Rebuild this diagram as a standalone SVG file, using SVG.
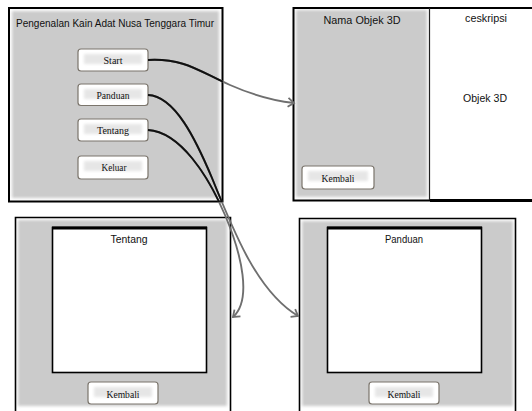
<svg xmlns="http://www.w3.org/2000/svg" width="532" height="411" viewBox="0 0 532 411">
<style>
.frame{fill:none;stroke:#000;stroke-width:2}
.gray{fill:#cbcbcb;filter:url(#soft)}
.inner{fill:#fff;stroke:#000;stroke-width:1.6}
.btn{fill:#fff;stroke:#7b756c;stroke-width:1.2}
.btnin{fill:#e6e6e6;filter:url(#soft2)}
.bl{font-family:"Liberation Serif","DejaVu Serif",serif;font-size:11px;fill:#111;text-anchor:middle}
.sl{font-family:"Liberation Sans","DejaVu Sans",sans-serif;font-size:11.5px;fill:#111;text-anchor:middle}
.cg{fill:none;stroke:#6f6f6f;stroke-width:1.9}
.cb{fill:none;stroke:#111;stroke-width:1.9}
</style>
<defs>
<filter id="soft" x="-5%" y="-5%" width="110%" height="110%"><feGaussianBlur stdDeviation="1.8"/></filter>
<filter id="soft2" x="-20%" y="-50%" width="140%" height="200%"><feGaussianBlur stdDeviation="1.5"/></filter>
<marker id="arr" markerWidth="12" markerHeight="12" refX="9" refY="6" orient="auto" markerUnits="userSpaceOnUse">
<path d="M3,1.5 L9,6 L3,10.5" fill="none" stroke="#6f6f6f" stroke-width="1.8"/>
</marker>
<clipPath id="mainclip"><rect x="8" y="7" width="215" height="195"/></clipPath>
</defs>
<rect width="532" height="411" fill="#fff"/>

<g id="main-window">
<rect class="gray" x="12" y="11" width="207" height="187"/>
<rect class="frame" x="9" y="8" width="213.5" height="193.5"/>
<text class="sl" x="115" y="27" textLength="198" lengthAdjust="spacingAndGlyphs">Pengenalan Kain Adat Nusa Tenggara Timur</text>
<g id="btn-start"><rect class="btn" x="78" y="49" width="70" height="22" rx="3"/><rect class="btnin" x="84" y="54" width="58" height="10"/><text class="bl" x="113" y="64" textLength="19" lengthAdjust="spacingAndGlyphs">Start</text></g>
<g id="btn-panduan"><rect class="btn" x="78" y="84" width="70" height="21.5" rx="3"/><rect class="btnin" x="84" y="89" width="58" height="10"/><text class="bl" x="113" y="99" textLength="33" lengthAdjust="spacingAndGlyphs">Panduan</text></g>
<g id="btn-tentang"><rect class="btn" x="78" y="119" width="70" height="22" rx="3"/><rect class="btnin" x="84" y="124" width="58" height="10"/><text class="bl" x="113" y="134" textLength="32" lengthAdjust="spacingAndGlyphs">Tentang</text></g>
<g id="btn-keluar"><rect class="btn" x="78" y="156" width="70" height="23" rx="3"/><rect class="btnin" x="84" y="161" width="58" height="10"/><text class="bl" x="114" y="171" textLength="25" lengthAdjust="spacingAndGlyphs">Keluar</text></g>
</g>

<g id="objek-window">
<rect x="430" y="8" width="102" height="192" fill="#fff"/>
<rect class="gray" x="296" y="10" width="131" height="187"/>
<path d="M532,8 L293.5,8 L293.5,200.5 L430,200.5" fill="none" stroke="#000" stroke-width="2"/>
<path d="M430,200.5 L532,200.5" fill="none" stroke="#000" stroke-width="3"/>
<line x1="429.5" y1="8" x2="429.5" y2="200" stroke="#222" stroke-width="1.2"/>
<text class="sl" x="362" y="24" textLength="77" lengthAdjust="spacingAndGlyphs">Nama Objek 3D</text>
<text class="sl" x="486" y="22" textLength="42" lengthAdjust="spacingAndGlyphs">ceskripsi</text>
<text class="sl" x="485" y="102" textLength="44" lengthAdjust="spacingAndGlyphs">Objek 3D</text>
<g id="btn-kembali-objek"><rect class="btn" x="302" y="166" width="72" height="23" rx="3"/><rect class="btnin" x="308" y="171" width="60" height="10"/><text class="bl" x="338" y="182" textLength="33" lengthAdjust="spacingAndGlyphs">Kembali</text></g>
</g>

<g id="tentang-window">
<rect class="gray" x="18" y="220" width="209" height="186"/>
<path d="M15.5,411 L15.5,217.5 L230.5,217.5 L230.5,411" fill="none" stroke="#000" stroke-width="1.6"/>
<rect class="inner" x="52.5" y="227.5" width="154" height="145"/>
<line x1="52" y1="228" x2="207" y2="228" stroke="#000" stroke-width="3"/>
<text class="sl" x="129" y="243" textLength="37" lengthAdjust="spacingAndGlyphs">Tentang</text>
<g id="btn-kembali-tentang"><rect class="btn" x="88" y="382" width="70" height="22" rx="3"/><rect class="btnin" x="94" y="387" width="58" height="10"/><text class="bl" x="123" y="398" textLength="33" lengthAdjust="spacingAndGlyphs">Kembali</text></g>
</g>

<g id="panduan-window">
<rect class="gray" x="302" y="221" width="211" height="185"/>
<path d="M299.5,411 L299.5,218.5 L515.5,218.5 L515.5,411" fill="none" stroke="#000" stroke-width="1.6"/>
<rect class="inner" x="327.5" y="227.5" width="154" height="145"/>
<line x1="327" y1="228" x2="482" y2="228" stroke="#000" stroke-width="3"/>
<text class="sl" x="404" y="243" textLength="38" lengthAdjust="spacingAndGlyphs">Panduan</text>
<g id="btn-kembali-panduan"><rect class="btn" x="369" y="382" width="70" height="22" rx="3"/><rect class="btnin" x="375" y="387" width="58" height="10"/><text class="bl" x="404" y="398" textLength="33" lengthAdjust="spacingAndGlyphs">Kembali</text></g>
</g>

<g id="connectors">
<path class="cg" d="M148,60 C185,58 200,72 230,85 C255,96 275,101 294,103" marker-end="url(#arr)"/>
<path class="cg" d="M148,95 C175,96 196,140 212,178 C235,235 258,292 298,316" marker-end="url(#arr)"/>
<path class="cg" d="M148,130 C180,132 208,175 225,215 C242,255 252,300 233,317" marker-end="url(#arr)"/>
<g clip-path="url(#mainclip)">
<path class="cb" d="M148,60 C185,58 200,72 230,85 C255,96 275,101 294,103"/>
<path class="cb" d="M148,95 C175,96 196,140 212,178 C235,235 258,292 298,316"/>
<path class="cb" d="M148,130 C180,132 208,175 225,215 C242,255 252,300 233,317"/>
</g>
</g>
</svg>
